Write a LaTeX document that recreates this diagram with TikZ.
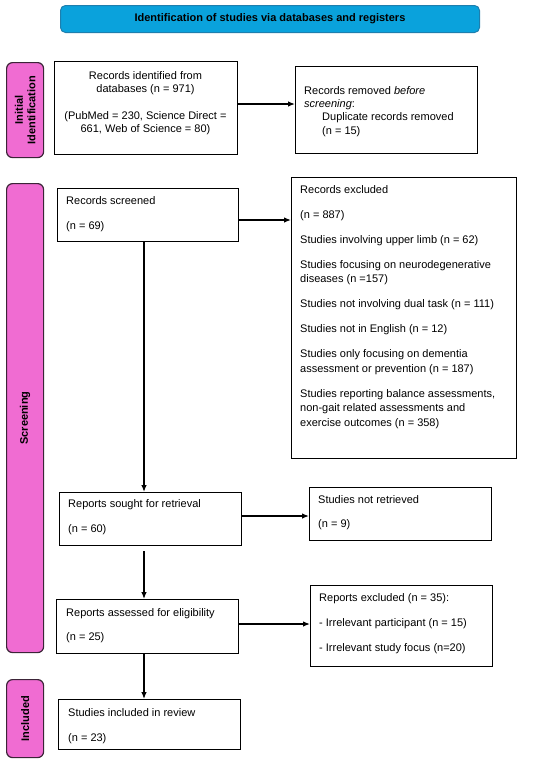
\documentclass[tikz,border=0pt]{standalone}
\usepackage{fontspec}
\setmainfont{Liberation Sans}
\usetikzlibrary{arrows.meta}
\definecolor{bannerblue}{HTML}{0AA2DC}
\definecolor{bannerline}{HTML}{1E7FAE}
\definecolor{phasepink}{HTML}{F06CD2}
\definecolor{phaseline}{HTML}{3C2438}
\begin{document}
\begin{tikzpicture}[x=1pt,y=-1pt,
  box/.style={draw=black, line width=1.25pt, fill=white, inner sep=0pt, anchor=north west},
  phase/.style={draw=phaseline, line width=1.2pt, fill=phasepink, rounded corners=6pt, inner sep=0pt, anchor=north west},
  phasetext/.style={font=\fontsize{11}{12.5}\selectfont\bfseries, align=center, rotate=90, text=black},
  txt/.style={font=\fontsize{11}{14.5}\selectfont, align=left, inner sep=0pt, anchor=north west},
  ctxt/.style={font=\fontsize{11}{13.5}\selectfont, align=center, inner sep=0pt, anchor=north},
  arr/.style={line width=1.25pt, -{Latex[length=7pt,width=5.5pt]}}
]
\useasboundingbox (0,0) rectangle (550,763);

% banner
\node[draw=bannerline, line width=1pt, fill=bannerblue, rounded corners=5pt, minimum width=419pt, minimum height=27pt, inner sep=0pt, anchor=north west,
  font=\fontsize{11}{13}\selectfont\bfseries] (banner) at (60,5) {Identification of studies via databases and registers};

% phase bars
\node[phase, minimum width=37pt, minimum height=95pt] (pinit) at (6,62) {};
\node[phasetext] at (pinit.center) {Initial\\Identification};
\node[phase, minimum width=37pt, minimum height=469pt] (pscr) at (6,183) {};
\node[phasetext] at (pscr.center) {Screening};
\node[phase, minimum width=37pt, minimum height=78pt] (pinc) at (6,679) {};
\node[phasetext] at (pinc.center) {Included};

% boxes
\node[box, minimum width=183pt, minimum height=93pt] (rid) at (54,61) {};
\node[box, minimum width=182pt, minimum height=87pt] (rrm) at (295,66) {};
\node[box, minimum width=181pt, minimum height=53pt] (rsc) at (57,188) {};
\node[box, minimum width=225pt, minimum height=281pt] (rex) at (291,177) {};
\node[box, minimum width=182pt, minimum height=53pt] (rso) at (59,492) {};
\node[box, minimum width=182pt, minimum height=53pt] (snr) at (309,487) {};
\node[box, minimum width=182pt, minimum height=54pt] (ras) at (56,599) {};
\node[box, minimum width=182pt, minimum height=81pt] (rpe) at (310,585) {};
\node[box, minimum width=182pt, minimum height=50pt] (sin) at (58,699) {};

% texts
\node[ctxt] (t-rid) at (145.5,71) {Records identified from\\databases (n = 971)\\[13pt](PubMed = 230, Science Direct =\\661, Web of Science = 80)};
\node[txt, font=\fontsize{11}{13.3}\selectfont] (t-rrm) at (304,86) {Records removed \textit{before}\\\textit{screening}:\\\hspace*{18pt}Duplicate records removed\\\hspace*{18pt}(n = 15)};
\node[txt] (t-rsc) at (66,196) {Records screened\\[10.5pt](n = 69)};
\node[txt] (t-rex) at (300,185) {Records excluded\\[10.5pt](n = 887)\\[10.5pt]Studies involving upper limb (n = 62)\\[10.5pt]Studies focusing on neurodegenerative\\diseases (n =157)\\[10.5pt]Studies not involving dual task (n = 111)\\[10.5pt]Studies not in English (n = 12)\\[10.5pt]Studies only focusing on dementia\\assessment or prevention (n = 187)\\[10.5pt]Studies reporting balance assessments,\\non-gait related assessments and\\exercise outcomes (n = 358)};
\node[txt] (t-rso) at (68,499) {Reports sought for retrieval\\[10.5pt](n = 60)};
\node[txt] (t-snr) at (318,495) {Studies not retrieved\\[9.5pt](n = 9)};
\node[txt] (t-ras) at (66,608) {Reports assessed for eligibility\\[9.5pt](n = 25)};
\node[txt] (t-rpe) at (319,593) {Reports excluded (n = 35):\\[10.5pt]- Irrelevant participant (n = 15)\\[10.5pt]- Irrelevant study focus (n=20)};
\node[txt] (t-sin) at (68,708) {Studies included in review\\[10.5pt](n = 23)};

% connectors
\draw[arr] (rid.east |- 0,104) -- (rrm.west |- 0,104);
\draw[arr] (rsc.east |- 0,220) -- (rex.west |- 0,220);
\draw[arr] (rsc.south -| 144,0) -- (rso.north -| 144,0);
\draw[arr] (rso.east |- 0,516) -- (snr.west |- 0,516);
\draw[arr, shorten <=5pt] (rso.south -| 144,0) -- (ras.north -| 144,0);
\draw[arr] (ras.east |- 0,624) -- (rpe.west |- 0,624);
\draw[arr] (ras.south -| 144,0) -- (sin.north -| 144,0);
\end{tikzpicture}
\end{document}
